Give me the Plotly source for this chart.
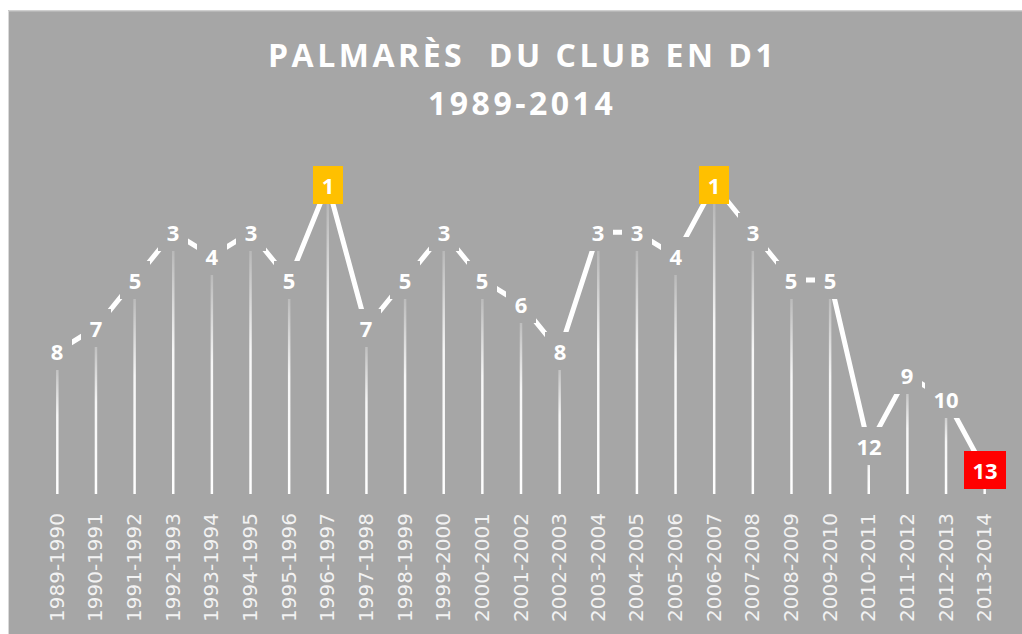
import plotly.graph_objects as go

# Season-by-season league position in D1
seasons = [
    "1989-1990", "1990-1991", "1991-1992", "1992-1993", "1993-1994",
    "1994-1995", "1995-1996", "1996-1997", "1997-1998", "1998-1999",
    "1999-2000", "2000-2001", "2001-2002", "2002-2003", "2003-2004",
    "2004-2005", "2005-2006", "2006-2007", "2007-2008", "2008-2009",
    "2009-2010", "2010-2011", "2011-2012", "2012-2013", "2013-2014",
]
ranks = [8, 7, 5, 3, 4, 3, 5, 1, 7, 5, 3, 5, 6, 8, 3, 3, 4, 1, 3, 5, 5, 12, 9, 10, 13]

title_line1 = "PALMARÈS  DU CLUB EN D1"
title_line2 = "1989-2014"

BG = "#a6a6a6"
GOLD = "#ffc000"
RED = "#ff0000"

W, H = 1022, 634
ML, MR, MT, MB = 38, 18, 161, 137
PW, PH = W - ML - MR, H - MT - MB
Y_BOTTOM = 14  # lowest value shown on the reversed rank axis
DROP_HALF = 0.032  # half-width of the drop lines, in category units

xs = list(range(len(seasons)))


def px_to_paper_x(px):
    return (px - ML) / PW


def px_to_paper_y(py):
    return (H - MB - py) / PH


fig = go.Figure()

# Drop lines: thin filled strips fading from white to the background
for x, r in zip(xs, ranks):
    fig.add_trace(go.Scatter(
        x=[x - DROP_HALF, x + DROP_HALF, x + DROP_HALF, x - DROP_HALF, x - DROP_HALF],
        y=[r, r, Y_BOTTOM, Y_BOTTOM, r],
        mode="lines",
        line=dict(width=0, color="rgba(0,0,0,0)"),
        fill="toself",
        fillgradient=dict(
            type="vertical",
            colorscale=[
                [0.0, "rgba(255,255,255,1.0)"],
                [0.55, "rgba(255,255,255,0.9)"],
                [1.0, "rgba(255,255,255,0.08)"],
            ],
        ),
        hoverinfo="skip",
        showlegend=False,
    ))

# Position line
fig.add_trace(go.Scatter(
    x=xs, y=ranks, mode="lines",
    line=dict(color="white", width=5),
    hoverinfo="skip", showlegend=False,
))

# Value labels, boxed so they mask the line around each point
annotations = []
for x, r in zip(xs, ranks):
    txt = str(r)
    if r == 1:
        box = GOLD
    elif r == max(ranks):
        box = RED
    else:
        box = BG
    annotations.append(dict(
        x=x, y=r, xref="x", yref="y", text=f"<b>{txt}</b>",
        showarrow=False, xanchor="center", yanchor="middle",
        font=dict(family="Open Sans", size=22, color="white"),
        bgcolor=box, borderpad=0, borderwidth=0,
        width=18 + 12 * len(txt), height=38,
    ))

# Two-line title
for txt, py in [(title_line1, 54), (title_line2, 102)]:
    annotations.append(dict(
        x=px_to_paper_x(522), y=px_to_paper_y(py), xref="paper", yref="paper",
        text=f'<b><span style="letter-spacing:3.5px">{txt}</span></b>',
        showarrow=False, xanchor="center", yanchor="middle",
        font=dict(family="Open Sans", size=32, color="white"),
    ))

# White page margin along the top and left edges, with a light border line
shapes = [
    dict(type="rect", xref="paper", yref="paper", layer="below",
         x0=px_to_paper_x(-5), x1=px_to_paper_x(W + 5),
         y0=px_to_paper_y(9), y1=px_to_paper_y(-5),
         fillcolor="white", line=dict(width=0)),
    dict(type="rect", xref="paper", yref="paper", layer="below",
         x0=px_to_paper_x(-5), x1=px_to_paper_x(8),
         y0=px_to_paper_y(H + 5), y1=px_to_paper_y(-5),
         fillcolor="white", line=dict(width=0)),
    dict(type="rect", xref="paper", yref="paper", layer="below",
         x0=px_to_paper_x(8.5), x1=px_to_paper_x(W + 5),
         y0=px_to_paper_y(H + 5), y1=px_to_paper_y(9.5),
         fillcolor="rgba(0,0,0,0)", line=dict(color="#d9d9d9", width=1)),
]

fig.update_layout(
    width=W, height=H,
    margin=dict(l=ML, r=MR, t=MT, b=MB, pad=0),
    paper_bgcolor=BG,
    plot_bgcolor="rgba(0,0,0,0)",
    showlegend=False,
    annotations=annotations,
    shapes=shapes,
    xaxis=dict(
        range=[-0.5, len(seasons) - 0.5],
        tickmode="array", tickvals=xs, ticktext=seasons,
        tickangle=-90, ticks="", ticklabelstandoff=14,
        tickfont=dict(family="DejaVu Sans", size=20, color="#f2f2f2"),
        showgrid=False, zeroline=False, showline=False, fixedrange=True,
    ),
    yaxis=dict(
        range=[Y_BOTTOM, 0], visible=False, fixedrange=True,
    ),
)

# Keep the page itself flush and grey behind the figure
page_css = (
    "document.body.style.margin='0';"
    "document.body.style.overflow='hidden';"
    f"document.body.style.background='{BG}';"
)

fig.write_html("out.html", post_script=page_css)
